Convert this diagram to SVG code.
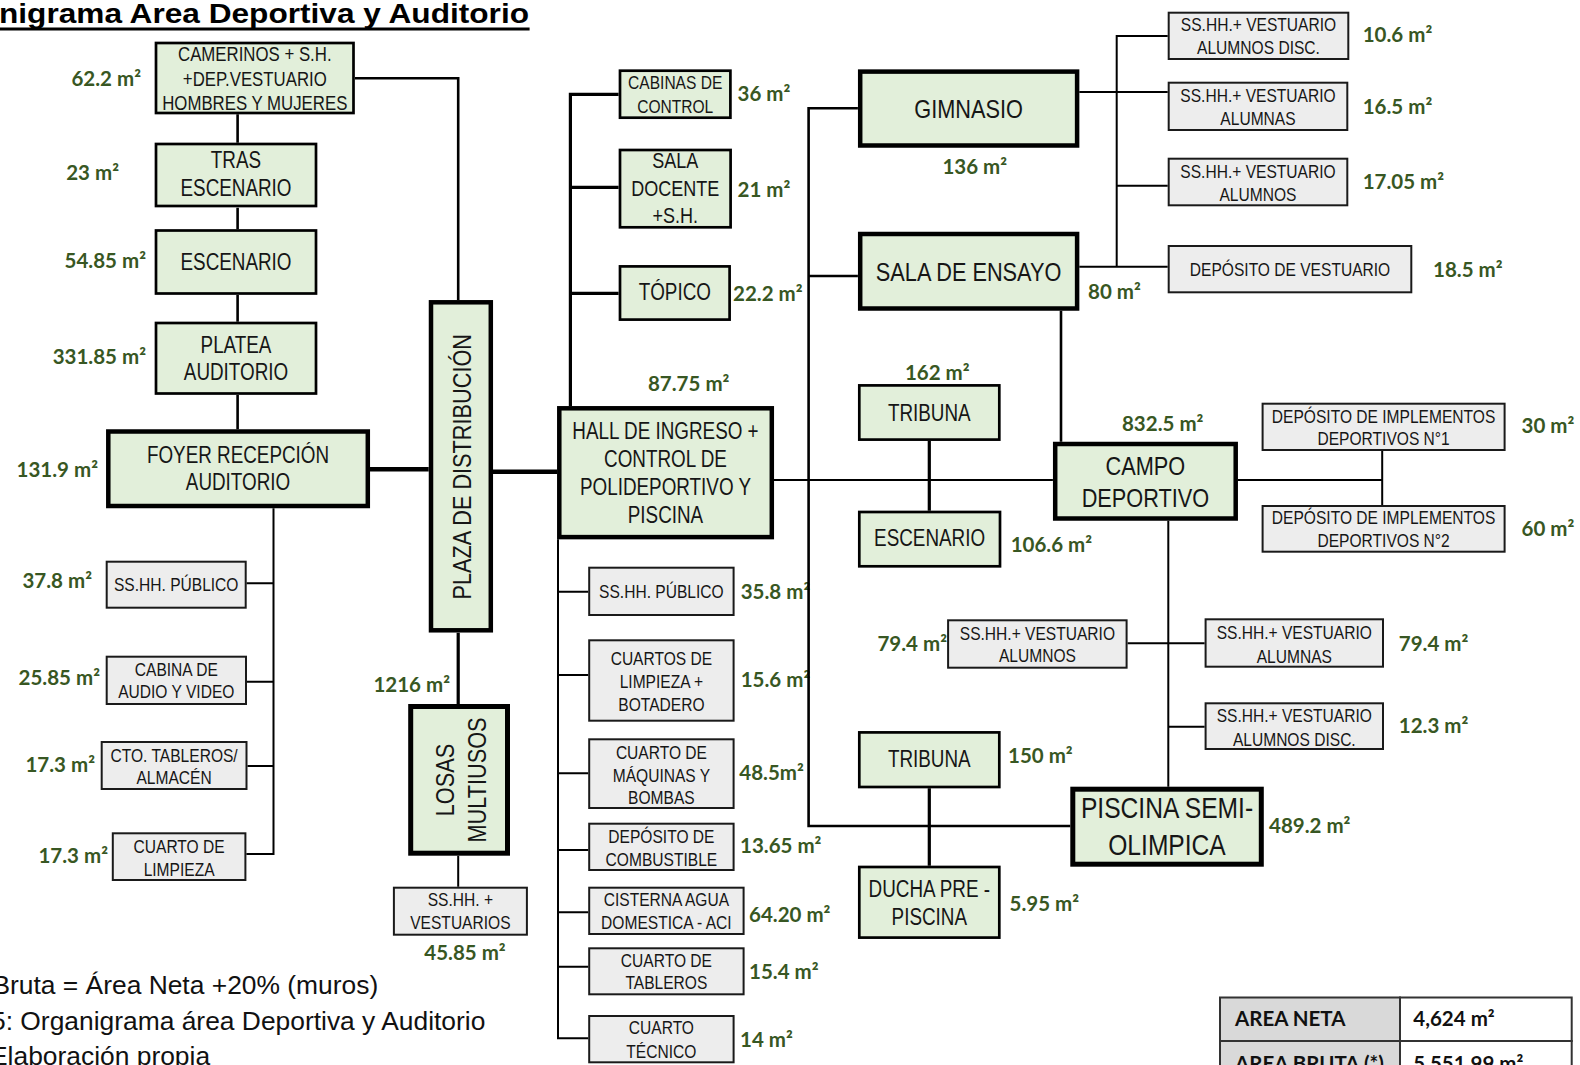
<svg xmlns="http://www.w3.org/2000/svg" width="1580" height="1065" viewBox="0 0 1580 1065">
  <style>
    .bg { fill: #ffffff; }
    .g { fill: #E2EFDA; stroke: #000; stroke-width: 2.7; }
    .gk { fill: #E2EFDA; stroke: #000; stroke-width: 4.5; }
    .gx { fill: #E2EFDA; stroke: #000; stroke-width: 5; }
    .y { fill: #EDEDED; stroke: #1a1a1a; stroke-width: 2; }
    .t { font-family: "Liberation Sans", Arial, sans-serif; fill: #161616; text-anchor: middle;
         transform-box: fill-box; transform-origin: center; transform: scaleX(0.82); }
    .f19 { font-size: 19px; }
    .f20 { font-size: 20.5px; }
    .f22 { font-size: 22px; }
    .f23 { font-size: 23px; }
    .f26 { font-size: 26.5px; }
    .f30 { font-size: 30px; }
    .a { font-family: Lato, "Liberation Sans", sans-serif; font-weight: 700; font-size: 20.5px; fill: #385723; }
    .e { text-anchor: end; }
    .m { text-anchor: middle; }
    .c { fill: none; stroke: #000; stroke-width: 2; }
    .c2 { stroke-width: 2.6; }
    .c3 { stroke-width: 3.2; }
    .c4 { stroke-width: 4.5; }
    .title { font-family: "Liberation Sans", Arial, sans-serif; font-weight: 700; font-size: 27px; fill: #000; }
    .note { font-family: "Liberation Sans", Arial, sans-serif; font-size: 26.4px; fill: #111; }
    .tl { fill: #D9D9D9; stroke: #333; stroke-width: 2; }
    .tr { fill: #ffffff; stroke: #333; stroke-width: 2; }
    .tt { font-family: Lato, "Liberation Sans", sans-serif; font-weight: 700; font-size: 20.5px; fill: #111; }
  </style>

  <rect class="bg" x="0" y="0" width="1580" height="1065"/>

  <!-- heading -->
  <g id="title">
    <text class="title" x="-1" y="22.7" textLength="530" lengthAdjust="spacingAndGlyphs">nigrama Area Deportiva y Auditorio</text>
    <line x1="0" y1="29" x2="529.6" y2="29" stroke="#000" stroke-width="3"/>
  </g>

  <!-- auditorium branch -->
  <g id="n-camerinos">
    <rect class="g" x="156" y="43" width="197.5" height="70"/>
    <text class="t f20"><tspan x="254.8" y="61.5">CAMERINOS + S.H.</tspan><tspan x="254.8" y="86">+DEP.VESTUARIO</tspan><tspan x="254.8" y="110.5">HOMBRES Y MUJERES</tspan></text>
    <text class="a e" x="141" y="86">62.2 m²</text>
  </g>
  <g id="n-tras-escenario">
    <rect class="g" x="156" y="144" width="160" height="62"/>
    <text class="t f23"><tspan x="236" y="168.3">TRAS</tspan><tspan x="236" y="196">ESCENARIO</tspan></text>
    <text class="a e" x="119" y="180">23 m²</text>
  </g>
  <g id="n-escenario-aud">
    <rect class="g" x="156" y="230.5" width="160" height="63"/>
    <text class="t f23" x="236" y="270">ESCENARIO</text>
    <text class="a e" x="146" y="267.7">54.85 m²</text>
  </g>
  <g id="n-platea">
    <rect class="g" x="156" y="323" width="160" height="70.5"/>
    <text class="t f23"><tspan x="236" y="352.7">PLATEA</tspan><tspan x="236" y="380">AUDITORIO</tspan></text>
    <text class="a e" x="146" y="364">331.85 m²</text>
  </g>
  <g id="n-foyer">
    <rect class="gk" x="108.3" y="431.5" width="259.5" height="74.5"/>
    <text class="t f23"><tspan x="238" y="462.7">FOYER RECEPCIÓN</tspan><tspan x="238" y="490">AUDITORIO</tspan></text>
    <text class="a e" x="98" y="477">131.9 m²</text>
  </g>
  <g id="n-plaza">
    <rect class="gk" x="431" y="302.3" width="59.8" height="328"/>
    <g transform="translate(461.4,466.7) rotate(-90)">
      <text class="t f26" x="0" y="9.5">PLAZA DE DISTRIBUCIÓN</text>
    </g>
  </g>
  <g id="n-sshh-publico-a">
    <rect class="y" x="106.7" y="561.7" width="139" height="46"/>
    <text class="t f19" x="176.2" y="591">SS.HH. PÚBLICO</text>
    <text class="a e" x="92" y="588">37.8 m²</text>
  </g>
  <g id="n-cabina-audio">
    <rect class="y" x="106.7" y="656.7" width="139.3" height="47.3"/>
    <text class="t f19"><tspan x="176.3" y="676">CABINA DE</tspan><tspan x="176.3" y="698">AUDIO Y VIDEO</tspan></text>
    <text class="a e" x="100" y="685">25.85 m²</text>
  </g>
  <g id="n-cto-tableros">
    <rect class="y" x="101.7" y="742" width="144.8" height="47"/>
    <text class="t f19"><tspan x="174.1" y="762">CTO. TABLEROS/</tspan><tspan x="174.1" y="784">ALMACÉN</tspan></text>
    <text class="a e" x="95" y="772">17.3 m²</text>
  </g>
  <g id="n-cuarto-limpieza-a">
    <rect class="y" x="112.8" y="833.3" width="132.6" height="46.7"/>
    <text class="t f19"><tspan x="179.1" y="853">CUARTO DE</tspan><tspan x="179.1" y="876.5">LIMPIEZA</tspan></text>
    <text class="a e" x="108" y="863">17.3 m²</text>
  </g>
  <g id="n-losas">
    <rect class="gx" x="410.7" y="706.5" width="96.8" height="146.7"/>
    <g transform="translate(459,780) rotate(-90)">
      <text class="t f26"><tspan x="0" y="-5.4">LOSAS</tspan><tspan x="0" y="26.7">MULTIUSOS</tspan></text>
    </g>
    <text class="a e" x="450" y="691.5">1216 m²</text>
  </g>
  <g id="n-sshh-vestuarios-losas">
    <rect class="y" x="393.9" y="887.7" width="133" height="47"/>
    <text class="t f19"><tspan x="460.4" y="906.5">SS.HH. +</tspan><tspan x="460.4" y="929">VESTUARIOS</tspan></text>
    <text class="a m" x="465" y="960">45.85 m²</text>
  </g>

  <!-- entrance hall branch -->
  <g id="n-cabinas-control">
    <rect class="g" x="620" y="70.7" width="110.4" height="47"/>
    <text class="t f19"><tspan x="675.2" y="89.3">CABINAS DE</tspan><tspan x="675.2" y="112.7">CONTROL</tspan></text>
    <text class="a" x="737.5" y="100.5">36 m²</text>
  </g>
  <g id="n-sala-docente">
    <rect class="g" x="620" y="150" width="110.6" height="77.3"/>
    <text class="t f22"><tspan x="675.3" y="168.3">SALA</tspan><tspan x="675.3" y="196">DOCENTE</tspan><tspan x="675.3" y="223.3">+S.H.</tspan></text>
    <text class="a" x="737.5" y="196.5">21 m²</text>
  </g>
  <g id="n-topico">
    <rect class="g" x="620" y="266.4" width="109.6" height="53.2"/>
    <text class="t f23" x="674.8" y="300">TÓPICO</text>
    <text class="a" x="733" y="301">22.2 m²</text>
  </g>
  <g id="n-hall">
    <rect class="gk" x="559.3" y="408.3" width="212.5" height="128.8"/>
    <text class="t f23"><tspan x="665.5" y="439.3">HALL DE INGRESO +</tspan><tspan x="665.5" y="467.3">CONTROL DE</tspan><tspan x="665.5" y="495">POLIDEPORTIVO Y</tspan><tspan x="665.5" y="522.7">PISCINA</tspan></text>
    <text class="a m" x="688.7" y="390.5">87.75 m²</text>
  </g>
  <g id="n-sshh-publico-b">
    <rect class="y" x="589.2" y="567.7" width="144.4" height="47.3"/>
    <text class="t f19" x="661.4" y="598.3">SS.HH. PÚBLICO</text>
    <text class="a" x="740.7" y="599">35.8 m²</text>
  </g>
  <g id="n-cuartos-limpieza">
    <rect class="y" x="589.2" y="640.3" width="144.4" height="80.4"/>
    <text class="t f19"><tspan x="661.4" y="665">CUARTOS DE</tspan><tspan x="661.4" y="688.3">LIMPIEZA +</tspan><tspan x="661.4" y="710.7">BOTADERO</tspan></text>
    <text class="a" x="740.7" y="686.7">15.6 m²</text>
  </g>
  <g id="n-maquinas">
    <rect class="y" x="589.2" y="739.3" width="144.4" height="68.7"/>
    <text class="t f19"><tspan x="661.4" y="759.3">CUARTO DE</tspan><tspan x="661.4" y="781.7">MÁQUINAS Y</tspan><tspan x="661.4" y="804">BOMBAS</tspan></text>
    <text class="a" x="739.3" y="780">48.5m²</text>
  </g>
  <g id="n-combustible">
    <rect class="y" x="589.2" y="823.7" width="144.4" height="46.3"/>
    <text class="t f19"><tspan x="661.4" y="843.3">DEPÓSITO DE</tspan><tspan x="661.4" y="865.7">COMBUSTIBLE</tspan></text>
    <text class="a" x="740" y="853.3">13.65 m²</text>
  </g>
  <g id="n-cisterna">
    <rect class="y" x="589.2" y="887.7" width="154.4" height="46.3"/>
    <text class="t f19"><tspan x="666.4" y="906">CISTERNA AGUA</tspan><tspan x="666.4" y="929.3">DOMESTICA - ACI</tspan></text>
    <text class="a" x="749" y="921.7">64.20 m²</text>
  </g>
  <g id="n-cuarto-tableros">
    <rect class="y" x="589.2" y="948.3" width="154.4" height="46"/>
    <text class="t f19"><tspan x="666.4" y="966.7">CUARTO DE</tspan><tspan x="666.4" y="989.3">TABLEROS</tspan></text>
    <text class="a" x="749" y="979.3">15.4 m²</text>
  </g>
  <g id="n-cuarto-tecnico">
    <rect class="y" x="589.2" y="1016" width="144.4" height="46.3"/>
    <text class="t f19"><tspan x="661.4" y="1034.3">CUARTO</tspan><tspan x="661.4" y="1058.3">TÉCNICO</tspan></text>
    <text class="a" x="740" y="1046.7">14 m²</text>
  </g>

  <!-- sports branch -->
  <g id="n-gimnasio">
    <rect class="gk" x="860.2" y="71.6" width="216.9" height="73.9"/>
    <text class="t f26" x="968.6" y="118.3">GIMNASIO</text>
    <text class="a m" x="974.8" y="174">136 m²</text>
  </g>
  <g id="n-sala-ensayo">
    <rect class="gk" x="860.2" y="234" width="216.9" height="74.5"/>
    <text class="t f26" x="968.6" y="280.7">SALA DE ENSAYO</text>
    <text class="a" x="1088" y="299.3">80 m²</text>
  </g>
  <g id="n-tribuna-a">
    <rect class="g" x="859.3" y="385.4" width="140" height="54.2"/>
    <text class="t f23" x="929.3" y="420.7">TRIBUNA</text>
    <text class="a m" x="937.3" y="380">162 m²</text>
  </g>
  <g id="n-escenario-dep">
    <rect class="g" x="859.3" y="512" width="140.7" height="54.3"/>
    <text class="t f23" x="929.6" y="546">ESCENARIO</text>
    <text class="a" x="1010.7" y="551.7">106.6 m²</text>
  </g>
  <g id="n-campo">
    <rect class="gk" x="1055.2" y="444" width="180.5" height="74.5"/>
    <text class="t f26"><tspan x="1145.4" y="475">CAMPO</tspan><tspan x="1145.4" y="506.7">DEPORTIVO</tspan></text>
    <text class="a m" x="1162.7" y="430.7">832.5 m²</text>
  </g>
  <g id="n-deposito-impl-1">
    <rect class="y" x="1262.6" y="403.7" width="242" height="46.3"/>
    <text class="t f19"><tspan x="1383.6" y="422.7">DEPÓSITO DE IMPLEMENTOS</tspan><tspan x="1383.6" y="445.5">DEPORTIVOS N°1</tspan></text>
    <text class="a" x="1521.6" y="432.7">30 m²</text>
  </g>
  <g id="n-deposito-impl-2">
    <rect class="y" x="1262.6" y="506" width="242" height="45.7"/>
    <text class="t f19"><tspan x="1383.6" y="524">DEPÓSITO DE IMPLEMENTOS</tspan><tspan x="1383.6" y="546.7">DEPORTIVOS N°2</tspan></text>
    <text class="a" x="1521.6" y="536">60 m²</text>
  </g>
  <g id="n-vest-alumnos-campo">
    <rect class="y" x="948.1" y="620.3" width="178.5" height="47.4"/>
    <text class="t f19"><tspan x="1037.4" y="640">SS.HH.+ VESTUARIO</tspan><tspan x="1037.4" y="662.5">ALUMNOS</tspan></text>
    <text class="a e" x="947" y="650.7">79.4 m²</text>
  </g>
  <g id="n-vest-alumnas-campo">
    <rect class="y" x="1205.6" y="619.3" width="177.4" height="47.4"/>
    <text class="t f19"><tspan x="1294.3" y="639.3">SS.HH.+ VESTUARIO</tspan><tspan x="1294.3" y="662.7">ALUMNAS</tspan></text>
    <text class="a" x="1398.8" y="650.7">79.4 m²</text>
  </g>
  <g id="n-vest-disc-campo">
    <rect class="y" x="1205.6" y="703.3" width="177.4" height="45.7"/>
    <text class="t f19"><tspan x="1294.3" y="722.3">SS.HH.+ VESTUARIO</tspan><tspan x="1294.3" y="745.7">ALUMNOS DISC.</tspan></text>
    <text class="a" x="1398.8" y="732.7">12.3 m²</text>
  </g>
  <g id="n-tribuna-b">
    <rect class="g" x="859.3" y="732.4" width="140" height="54.6"/>
    <text class="t f23" x="929.3" y="766.7">TRIBUNA</text>
    <text class="a" x="1008" y="763.3">150 m²</text>
  </g>
  <g id="n-ducha">
    <rect class="g" x="859.3" y="867" width="140" height="70.6"/>
    <text class="t f23"><tspan x="929.3" y="896.7">DUCHA PRE -</tspan><tspan x="929.3" y="925">PISCINA</tspan></text>
    <text class="a" x="1009.6" y="911">5.95 m²</text>
  </g>
  <g id="n-piscina">
    <rect class="gx" x="1072.8" y="789.2" width="188.5" height="75"/>
    <text class="t f30"><tspan x="1167" y="818.3">PISCINA SEMI-</tspan><tspan x="1167" y="855">OLIMPICA</tspan></text>
    <text class="a" x="1269" y="832.7">489.2 m²</text>
  </g>

  <!-- gym changing rooms -->
  <g id="n-vest-disc-gim">
    <rect class="y" x="1168.7" y="12.7" width="179.6" height="46.3"/>
    <text class="t f19"><tspan x="1258.5" y="31">SS.HH.+ VESTUARIO</tspan><tspan x="1258.5" y="54">ALUMNOS DISC.</tspan></text>
    <text class="a" x="1362.7" y="42.3">10.6 m²</text>
  </g>
  <g id="n-vest-alumnas-gim">
    <rect class="y" x="1168.7" y="82.7" width="178.6" height="47.3"/>
    <text class="t f19"><tspan x="1258" y="101.7">SS.HH.+ VESTUARIO</tspan><tspan x="1258" y="125">ALUMNAS</tspan></text>
    <text class="a" x="1362.7" y="114">16.5 m²</text>
  </g>
  <g id="n-vest-alumnos-gim">
    <rect class="y" x="1168.7" y="158.7" width="178.6" height="46.6"/>
    <text class="t f19"><tspan x="1258" y="177.7">SS.HH.+ VESTUARIO</tspan><tspan x="1258" y="200.7">ALUMNOS</tspan></text>
    <text class="a" x="1362.7" y="189">17.05 m²</text>
  </g>
  <g id="n-deposito-vestuario">
    <rect class="y" x="1168.7" y="246" width="242.6" height="46.3"/>
    <text class="t f19" x="1290" y="276">DEPÓSITO DE VESTUARIO</text>
    <text class="a" x="1433" y="277.3">18.5 m²</text>
  </g>

  <!-- connectors -->
  <g id="connectors">
    <path class="c c4" d="M370,469.3H428.7 M493,471.7H557"/>
    <path class="c c3" d="M618.6,94.3H570.4V406 M570.4,187.3H618.6 M570.4,293.3H618.6 M458.2,632.7V704 M929.3,441V510.7 M929.3,788.3V865.7"/>
    <path class="c c2" d="M355,78.3H458.2V300 M237.6,114.3V142.7 M237.6,207.7V229.3 M237.6,295V321.7 M237.6,395V429.3 M1061,310.7V441.7 M857.9,108.3H808.6V826H1070.3 M808.6,276H857.9"/>
    <path class="c" d="M273.5,508.3V854H246.4 M246.6,583.3H273.5 M247,681.7H273.5 M247.5,766H273.5 M458.2,855.7V886.7"/>
    <path class="c" d="M558,539.3V1038.3H588.2 M558,591.7H588.2 M558,675H588.2 M558,773.3H588.2 M558,850H588.2 M558,912.3H588.2 M558,966.7H588.2"/>
    <path class="c" d="M774,480H1052.9 M1237.9,480H1382.2 M1382.2,451V505 M1168.3,520.7V786.7 M1127.6,643.3H1204.6 M1168.3,726.7H1204.6"/>
    <path class="c" d="M1116.7,266.7V36H1167.7 M1079.3,92H1167.7 M1116.7,185.7H1167.7 M1079.3,266.7H1167.7"/>
  </g>

  <!-- area summary -->
  <g id="area-table">
    <rect class="tl" x="1220" y="997.5" width="180" height="43.5"/>
    <rect class="tr" x="1400" y="997.5" width="171.7" height="43.5"/>
    <rect class="tl" x="1220" y="1041" width="180" height="44"/>
    <rect class="tr" x="1400" y="1041" width="171.7" height="44"/>
    <text class="tt" x="1235" y="1026">AREA NETA</text>
    <text class="tt" x="1413.3" y="1026">4,624 m²</text>
    <text class="tt" x="1235" y="1070.5">AREA BRUTA (*)</text>
    <text class="tt" x="1413.3" y="1070.5">5,551.99 m²</text>
  </g>

  <!-- footnotes -->
  <g id="notes">
    <text class="note" x="-7.6" y="994">Bruta = Área Neta +20% (muros)</text>
    <text class="note" x="-9" y="1029.5">5: Organigrama área Deportiva y Auditorio</text>
    <text class="note" x="-10" y="1065">Elaboración propia</text>
  </g>
</svg>
